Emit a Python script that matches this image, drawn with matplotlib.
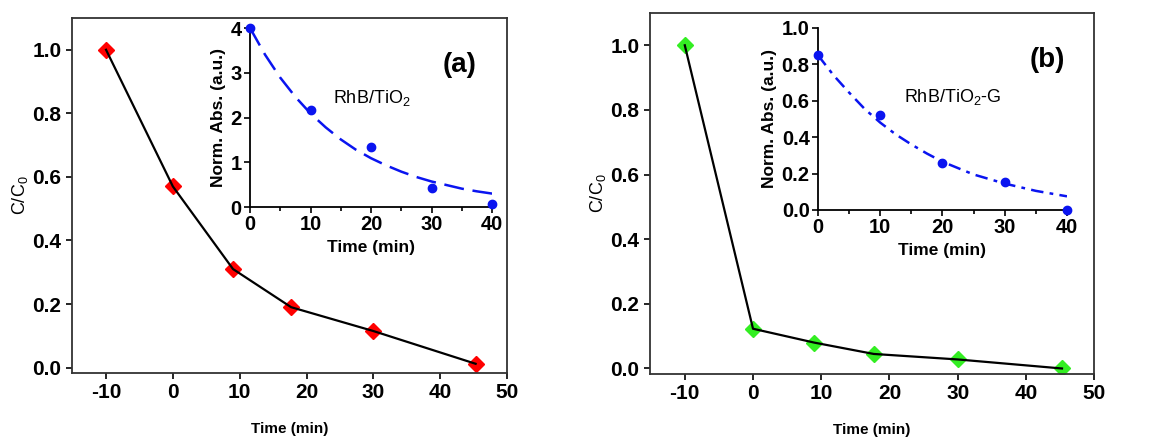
import numpy as np
import matplotlib.pyplot as plt
from matplotlib.ticker import MultipleLocator

plt.rcParams['font.family'] = ['Liberation Sans', 'DejaVu Sans']
plt.rcParams['mathtext.default'] = 'regular'
plt.rcParams['axes.unicode_minus'] = False

# Main panels: C/C0 vs time
time_main = [-10, 0, 9, 17.7, 30, 45.3]
c_tio2 = [1.0, 0.57, 0.31, 0.19, 0.115, 0.012]
c_tio2_g = [1.0, 0.123, 0.08, 0.045, 0.028, 0.0]

# Insets: normalised absorbance and the fitted curve
time_inset = [0, 10, 20, 30, 40]
abs_tio2 = [4.0, 2.17, 1.33, 0.43, 0.07]
abs_tio2_g = [0.85, 0.52, 0.26, 0.155, 0.0]
time_fit = [0, 2.5, 5, 7.5, 10, 12.5, 15, 17.5, 20, 22.5, 25, 27.5, 30,
            32.5, 35, 37.5, 40]
fit_tio2 = [4.0, 3.4, 2.89, 2.46, 2.09, 1.78, 1.51, 1.28, 1.09, 0.93, 0.79,
            0.67, 0.57, 0.49, 0.41, 0.35, 0.3]
fit_tio2_g = [0.85, 0.74, 0.645, 0.555, 0.48, 0.415, 0.36, 0.31, 0.265,
              0.23, 0.195, 0.17, 0.145, 0.125, 0.105, 0.09, 0.075]

fig = plt.figure(figsize=(11.57, 4.37), dpi=100)


def main_panel(rect, y, color):
    ax = fig.add_axes(rect)
    ax.plot(time_main, y, 'D', color=color, ms=8.5, zorder=2)
    ax.plot(time_main, y, '-', color='black', lw=1.6, zorder=3)
    ax.set_xlim(-15.1, 50)
    ax.set_ylim(-0.017, 1.1)
    ax.xaxis.set_major_locator(MultipleLocator(10))
    ax.yaxis.set_major_locator(MultipleLocator(0.2))
    ax.yaxis.set_major_formatter(plt.FormatStrFormatter('%.1f'))
    ax.tick_params(direction='out', length=4, width=1.2, labelsize=15)
    for lab in ax.get_xticklabels() + ax.get_yticklabels():
        lab.set_fontweight('bold')
    for s in ax.spines.values():
        s.set_linewidth(1.3)
        s.set_color('#333333')
    ax.set_xlabel('Time (min)', fontsize=11, fontweight='bold', labelpad=14)
    ax.set_ylabel('C/C$_0$', fontsize=13, labelpad=2)
    return ax


def inset_panel(rect, y, yfit, ylim, ystep, yfmt, dashes):
    ax = fig.add_axes(rect)
    ax.patch.set_alpha(0)
    ax.plot(time_inset, y, 'o', color='#0a14f0', ms=6, clip_on=False, zorder=3)
    ax.plot(time_fit, yfit, color='#0a14f0', lw=1.8, dashes=dashes)
    ax.set_xlim(0, 40)
    ax.set_ylim(*ylim)
    ax.xaxis.set_major_locator(MultipleLocator(10))
    ax.xaxis.set_minor_locator(MultipleLocator(5))
    ax.yaxis.set_major_locator(MultipleLocator(ystep))
    ax.yaxis.set_major_formatter(plt.FormatStrFormatter(yfmt))
    ax.spines['top'].set_visible(False)
    ax.spines['right'].set_visible(False)
    for s in ax.spines.values():
        s.set_linewidth(1.3)
    ax.tick_params(which='major', direction='out', length=4, width=1.2, labelsize=14.5, pad=2)
    ax.tick_params(which='minor', direction='out', length=3, width=1.2)
    for lab in ax.get_xticklabels() + ax.get_yticklabels():
        lab.set_fontweight('bold')
    ax.set_xlabel('Time (min)', fontsize=12.5, fontweight='bold', labelpad=4)
    ax.set_ylabel('Norm. Abs. (a.u.)', fontsize=12.5, fontweight='bold', labelpad=3)
    return ax


ax1 = main_panel([0.0622, 0.1465, 0.376, 0.8123], c_tio2, '#ff0000')
ax2 = main_panel([0.5618, 0.1442, 0.3838, 0.8261], c_tio2_g, '#33ee22')

in1 = inset_panel([0.2161, 0.5263, 0.2092, 0.4096], abs_tio2, fit_tio2,
                  (0, 4), 1, '%d', (8, 3.5))
in2 = inset_panel([0.707, 0.5195, 0.2152, 0.4165], abs_tio2_g, fit_tio2_g,
                  (0, 1.0), 0.2, '%.1f', (5, 2.5, 1.5, 2.5))

fig.text(460 / 1157, 1 - 65 / 437, '(a)', fontsize=20, fontweight='bold',
         ha='center', va='center')
fig.text(1047 / 1157, 1 - 60 / 437, '(b)', fontsize=20, fontweight='bold',
         ha='center', va='center')
fig.text(372 / 1157, 1 - 98 / 437, 'RhB/TiO$_2$', fontsize=13,
         ha='center', va='center')
fig.text(953 / 1157, 1 - 97 / 437, 'RhB/TiO$_2$-G', fontsize=13,
         ha='center', va='center')

fig.savefig('out.png', dpi=100)
